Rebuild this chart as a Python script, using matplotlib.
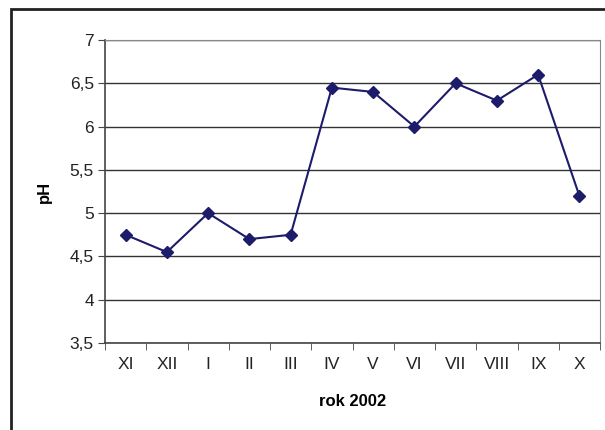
import matplotlib.pyplot as plt
from matplotlib.patches import Rectangle

plt.rcParams['font.family'] = ['Liberation Sans', 'DejaVu Sans']

months = ["XI", "XII", "I", "II", "III", "IV", "V", "VI", "VII", "VIII", "IX", "X"]
ph = [4.75, 4.55, 5.0, 4.7, 4.75, 6.45, 6.4, 6.0, 6.5, 6.3, 6.6, 5.2]
y_ticks = [3.5, 4, 4.5, 5, 5.5, 6, 6.5, 7]
y_labels = ["3,5", "4", "4,5", "5", "5,5", "6", "6,5", "7"]

fig = plt.figure(figsize=(6.05, 4.3), dpi=100)
ax = fig.add_axes([105 / 605, 1 - 343 / 430, 495 / 605, 303 / 430])

# outer chart frame (only left/top visible in the original)
fig.patches.append(Rectangle((11 / 605, -0.1), 1.2, 1 - 9 / 430 + 0.1,
                             transform=fig.transFigure, fill=False,
                             edgecolor="#222222", linewidth=2))

x = list(range(len(months)))
ax.plot(x, ph, color="#1c1c6b", linewidth=1.5, marker="D",
        markersize=6, markerfacecolor="#1c1c6b", markeredgecolor="#1c1c6b",
        zorder=3)

ax.set_xlim(-0.5, len(months) - 0.5)
ax.set_ylim(3.5, 7)
ax.set_yticks(y_ticks)
ax.set_yticklabels(y_labels, fontsize=12.5, color="#222222")
ax.set_xticks(x)
ax.set_xticklabels(months, fontsize=12.5, color="#222222")
ax.set_xticks([i - 0.5 for i in range(len(months) + 1)], minor=True)
ax.tick_params(axis="x", which="major", length=0, pad=10)
ax.tick_params(axis="x", which="minor", length=5, color="#444444")
ax.tick_params(axis="y", length=5, color="#444444", pad=3)

ax.grid(axis="y", color="#333333", linewidth=1)
ax.set_axisbelow(True)

for side in ["top", "right"]:
    ax.spines[side].set_color("#888888")
for side in ["left", "bottom"]:
    ax.spines[side].set_color("#444444")
    ax.spines[side].set_linewidth(1.2)

ax.set_ylabel("pH", fontsize=12, fontweight="bold", labelpad=13)
ax.set_xlabel("rok 2002", fontsize=12, fontweight="bold", labelpad=16)

fig.savefig("out.png", dpi=100)
